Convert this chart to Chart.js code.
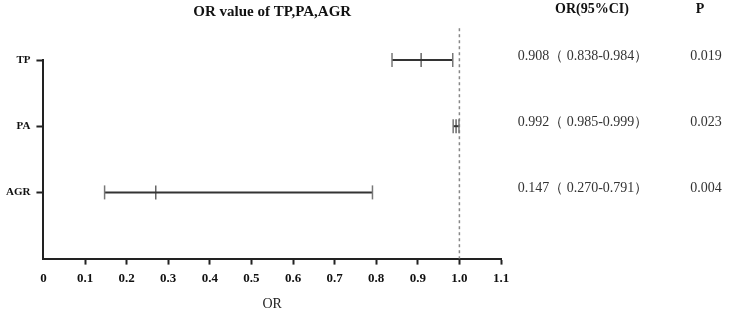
<!DOCTYPE html>
<html>
<head>
<meta charset="utf-8">
<script src="https://cdn.jsdelivr.net/npm/chart.js@4"></script>
<style>
    html, body { margin: 0; padding: 0; background: #fff; }
    #wrap { width: 729px; height: 310px; }
</style>
</head>
<body>
<div id="wrap"><canvas id="or_chart"></canvas></div>
<script>
// rows of the forest plot, top to bottom
const categories = ['TP', 'PA', 'AGR'];
const orLow = [0.838, 0.985, 0.147];
const orMid = [0.908, 0.992, 0.270];
const orHigh = [0.984, 0.999, 0.791];

// text table on the right
const ciText = ['0.908\uFF08 0.838-0.984\uFF09', '0.992\uFF08 0.985-0.999\uFF09', '0.147\uFF08 0.270-0.791\uFF09'];
const pText = ['0.019', '0.023', '0.004'];

const xTicks = [0, 0.1, 0.2, 0.3, 0.4, 0.5, 0.6, 0.7, 0.8, 0.9, 1.0, 1.1];
const refValue = 1.0;

const SERIF = "'Liberation Serif', 'Times New Roman', serif";

const datasets = [];

// whiskers with end caps
categories.forEach((name, i) => {
    datasets.push({
        label: name,
        data: [{x: orLow[i], y: i}, {x: orHigh[i], y: i}],
        showLine: true,
        clip: false,
        borderColor: '#333',
        borderWidth: 2,
        pointStyle: 'line',
        rotation: 90,
        pointRadius: 7,
        pointBorderColor: '#777',
        pointBorderWidth: 1.5
    });
});

// middle marks
datasets.push({
    label: 'mid',
    data: categories.map((c, i) => ({x: orMid[i], y: i})),
    clip: false,
    pointStyle: 'line',
    rotation: 90,
    pointRadius: 7,
    pointBorderColor: '#666',
    pointBorderWidth: 1.5
});

// reference line at OR = 1
datasets.push({
    label: 'ref',
    data: [{x: refValue, y: -0.48}, {x: refValue, y: 3}],
    showLine: true,
    borderColor: '#888',
    borderWidth: 1.5,
    borderDash: [3, 3],
    pointRadius: 0,
    clip: false
});

const tablePlugin = {
    id: 'tablePlugin',
    afterDraw(chart) {
        const ctx = chart.ctx;
        const area = chart.chartArea;
        const yScale = chart.scales.y;
        ctx.save();
        ctx.fillStyle = '#111';
        ctx.textAlign = 'center';
        ctx.textBaseline = 'middle';

        ctx.font = 'bold 15px ' + SERIF;
        ctx.fillText('OR value of TP,PA,AGR', (area.left + area.right) / 2, 12);

        ctx.font = 'bold 14px ' + SERIF;
        ctx.fillText('OR(95%CI)', area.right + 91, 9);
        ctx.fillText('P', area.right + 199, 9);

        ctx.font = '14px ' + SERIF;
        ctx.fillStyle = '#333';
        categories.forEach((c, i) => {
            const y = yScale.getPixelForValue(i) - 4;
            ctx.fillText(ciText[i], area.right + 82, y);
            ctx.fillText(pText[i], area.right + 205, y);
        });
        ctx.restore();
    }
};

new Chart(document.getElementById('or_chart'), {
    type: 'scatter',
    data: { datasets: datasets },
    plugins: [tablePlugin],
    options: {
        responsive: true,
        maintainAspectRatio: false,
        animation: false,
        layout: {
            padding: {top: 60, right: 228, left: 0, bottom: -3}
        },
        plugins: {
            legend: { display: false },
            title: { display: false },
            tooltip: { enabled: false }
        },
        scales: {
            x: {
                type: 'linear',
                min: 0,
                max: 1.1,
                afterBuildTicks: scale => {
                    scale.ticks = xTicks.map(v => ({value: v}));
                },
                border: { color: '#222', width: 2 },
                grid: {
                    drawOnChartArea: false,
                    drawTicks: true,
                    tickLength: 6,
                    tickWidth: 2,
                    tickColor: ctx => (ctx.tick && ctx.tick.value === 0) ? 'rgba(0,0,0,0)' : '#222'
                },
                ticks: {
                    color: '#111',
                    padding: 6,
                    maxRotation: 0,
                    font: { family: SERIF, size: 13, weight: 'bold' },
                    callback: v => v === 0 ? '0' : Number(v).toFixed(1)
                },
                title: {
                    display: true,
                    text: 'OR',
                    color: '#222',
                    padding: {top: 4, bottom: 0},
                    font: { family: SERIF, size: 14 }
                }
            },
            y: {
                type: 'linear',
                min: 0,
                max: 3,
                reverse: true,
                afterBuildTicks: scale => {
                    scale.ticks = [0, 1, 2, 3].map(v => ({value: v}));
                },
                border: { color: '#222', width: 2 },
                grid: {
                    drawOnChartArea: false,
                    drawTicks: true,
                    tickLength: 7,
                    tickWidth: 2,
                    tickColor: ctx => (ctx.tick && ctx.tick.value === 3) ? 'rgba(0,0,0,0)' : '#222'
                },
                ticks: {
                    color: '#111',
                    padding: 6,
                    font: { family: SERIF, size: 11, weight: 'bold' },
                    callback: v => categories[v] || ''
                }
            }
        }
    }
});
</script>
</body>
</html>
